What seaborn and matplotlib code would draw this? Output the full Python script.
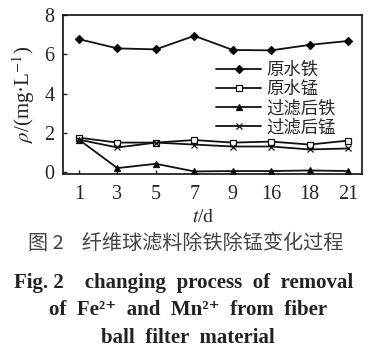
import matplotlib
matplotlib.use("Agg")
import matplotlib.pyplot as plt
import seaborn as sns
import pandas as pd
import numpy as np

days = ["1", "3", "5", "7", "9", "16", "18", "21"]
raw_fe = [6.77, 6.3, 6.25, 6.94, 6.22, 6.2, 6.48, 6.68]
raw_mn = [1.75, 1.5, 1.5, 1.63, 1.5, 1.55, 1.4, 1.6]
out_fe = [1.65, 0.2, 0.42, 0.03, 0.05, 0.05, 0.08, 0.05]
out_mn = [1.65, 1.25, 1.5, 1.4, 1.3, 1.3, 1.15, 1.2]
names = ["原水铁", "原水锰", "过滤后铁", "过滤后锰"]

sns.set_theme(style="ticks")
plt.rcParams['font.family'] = ['Liberation Serif', 'DejaVu Serif', 'Noto Sans CJK SC']
plt.rcParams['mathtext.fontset'] = 'stix'
plt.rcParams['axes.unicode_minus'] = False

fig = plt.figure(figsize=(3.83, 3.58), dpi=100)
ax = fig.add_axes([0.164, 0.514, 0.781, 0.444])

pos = np.arange(len(days))
series = [raw_fe, raw_mn, out_fe, out_mn]
markers = ["D", "s", "^", "x"]
fills = ["black", "white", "black", "black"]
sizes = [4.5, 5, 5, 5]
for name, vals, m, fc, ms in zip(names, series, markers, fills, sizes):
    df = pd.DataFrame({"x": pos, "y": vals})
    sns.lineplot(data=df, x="x", y="y", ax=ax, color="#111111", linewidth=1.3,
                 marker=m, markersize=ms, markerfacecolor=fc,
                 markeredgecolor="#111111", markeredgewidth=0.9, label=name)

ax.set_xticks(pos)
ax.set_xticklabels(days)
ax.set_xlim(-0.42, 7.36)
ax.set_ylim(-0.1, 8)
ax.set_yticks([0, 2, 4, 6, 8])
ax.tick_params(axis="x", direction="in", length=3, labelsize=14.5, width=1, pad=8)
ax.tick_params(axis="y", direction="in", length=3, labelsize=14.5, width=1, pad=6)
for s in ax.spines.values():
    s.set_linewidth(1.2)
    s.set_color("#111111")
ax.set_xlabel("")
ax.set_ylabel(r"$\rho$/(mg·L$^{-1}$)", fontsize=15, labelpad=5)
fig.text(0.53, 0.393, r"$t$/d", ha="center", va="center", fontsize=14)

leg = ax.legend(loc="upper left", bbox_to_anchor=(0.49, 0.755), frameon=False,
                fontsize=12.5, handlelength=2.6, handletextpad=0.3,
                labelspacing=0.07, borderaxespad=0)
for t in leg.get_texts():
    t.set_family(['Noto Sans CJK SC'])

fig.text(0.485, 0.32, "图 2    纤维球滤料除铁除锰变化过程", ha="center", va="center",
         fontsize=14.5, color="#444444", family=['Noto Sans CJK SC', 'DejaVu Sans'])
fig.text(0.48, 0.21, "Fig. 2    changing  process  of  removal", ha="center", va="center",
         fontsize=15, fontweight="bold", color="#222222")
fig.text(0.49, 0.133, "of  Fe²⁺  and  Mn²⁺  from  fiber", ha="center", va="center",
         fontsize=15, fontweight="bold", color="#222222")
fig.text(0.49, 0.055, "ball  filter  material", ha="center", va="center",
         fontsize=15, fontweight="bold", color="#222222")

fig.savefig("out.png", dpi=100)
